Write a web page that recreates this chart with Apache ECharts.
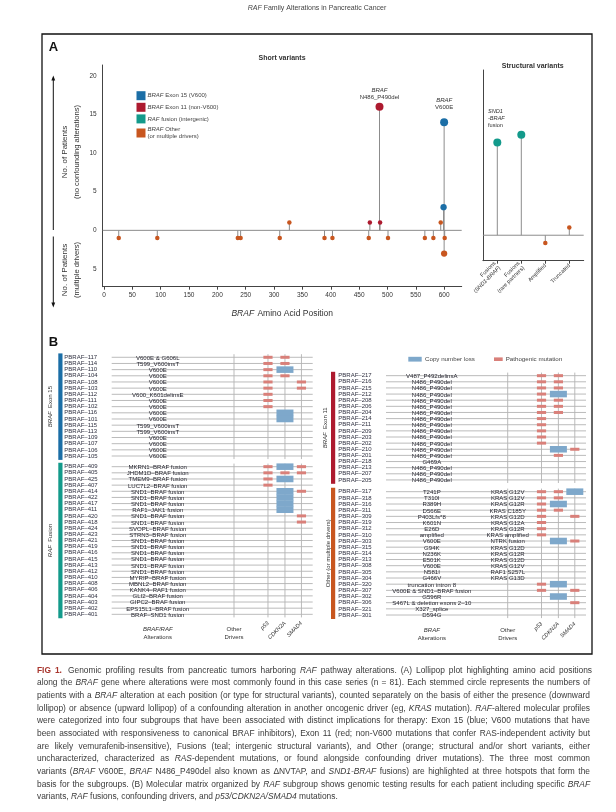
<!DOCTYPE html>
<html><head><meta charset="utf-8">
<script src="https://cdn.jsdelivr.net/npm/echarts@6/dist/echarts.min.js"></script>
<style>html,body{margin:0;padding:0;background:#fff}#c{width:616px;height:812px}</style>
</head><body><div id="c"></div>
<script>
const FONT = "'Liberation Sans', Arial, Helvetica, sans-serif";

// ---------- Panel A: short variants (BRAF amino acid position, patient counts; negative = multiple drivers)
const xTickValues = [0, 50, 100, 150, 200, 250, 300, 350, 400, 450, 500, 550, 600];
const yTickValues = [-5, 0, 5, 10, 15, 20];
const exon15Pos = [600, 599];
const exon15Cnt = [14, 3];
const exon11Pos = [486, 487, 469];
const exon11Cnt = [16, 1, 1];
const otherPos = [327, 594, 26, 94, 236, 241, 310, 389, 403, 467, 501, 566, 581, 601, 600];
const otherCnt = [1, 1, -1, -1, -1, -1, -1, -1, -1, -1, -1, -1, -1, -1, -3];

// ---------- Panel A: structural variants
const structCats = ['Fusions (SND1-BRAF)', 'Fusions (rare partners)', 'Amplified', 'Truncated'];
const structFusionIdx = [0, 1];
const structFusionCnt = [12, 13];
const structOtherIdx = [2, 3];
const structOtherCnt = [-1, 1];

// ---------- Panel B: molecular matrix (0 = none, 1 = pathogenic mutation, 2 = copy number loss)
const e15Ids = [117, 114, 110, 104, 108, 103, 112, 111, 102, 116, 101, 115, 113, 109, 107, 106, 105];
const e15Alt = ['V600E & G606L', 'T599_V600insT', 'V600E', 'V600E', 'V600E', 'V600E', 'V600_K601delinsE', 'V600E', 'V600E', 'V600E', 'V600E', 'T599_V600insT', 'T599_V600insT', 'V600E', 'V600E', 'V600E', 'V600E'];
const e15Drv = ['', '', '', '', '', '', '', '', '', '', '', '', '', '', '', '', ''];
const e15P53 = [1, 1, 1, 1, 1, 1, 1, 1, 1, 0, 0, 0, 0, 0, 0, 0, 0];
const e15Cdkn = [1, 1, 2, 1, 0, 0, 0, 0, 0, 2, 2, 0, 0, 0, 0, 0, 0];
const e15Smad = [0, 0, 0, 0, 1, 1, 0, 0, 0, 0, 0, 0, 0, 0, 0, 0, 0];

const fusIds = [409, 405, 425, 407, 414, 422, 417, 411, 420, 418, 424, 423, 421, 419, 416, 415, 413, 412, 410, 408, 406, 404, 403, 402, 401];
const fusAlt = ['MKRN1–BRAF fusion', 'JHDM1D–BRAF fusion', 'TMEM9–BRAF fusion', 'LUC7L2–BRAF fusion', 'SND1–BRAF fusion', 'SND1–BRAF fusion', 'SND1–BRAF fusion', 'RAF1–JAK1 fusion', 'SND1–BRAF fusion', 'SND1–BRAF fusion', 'SVOPL–BRAF fusion', 'STRN3–BRAF fusion', 'SND1–BRAF fusion', 'SND1–BRAF fusion', 'SND1–BRAF fusion', 'SND1–BRAF fusion', 'SND1–BRAF fusion', 'SND1–BRAF fusion', 'MYRIP–BRAF fusion', 'MBNL2–BRAF fusion', 'KANK4–RAF1 fusion', 'GLI2–BRAF fusion', 'GIPC2–BRAF fusion', 'EPS15L1–BRAF fusion', 'BRAF–SND1 fusion'];
const fusDrv = fusIds.map(() => '');
const fusP53 = [1, 1, 1, 1, 0, 0, 0, 0, 0, 0, 0, 0, 0, 0, 0, 0, 0, 0, 0, 0, 0, 0, 0, 0, 0];
const fusCdkn = [2, 1, 2, 0, 2, 2, 2, 2, 0, 0, 0, 0, 0, 0, 0, 0, 0, 0, 0, 0, 0, 0, 0, 0, 0];
const fusSmad = [1, 1, 0, 0, 1, 0, 0, 0, 1, 1, 0, 0, 0, 0, 0, 0, 0, 0, 0, 0, 0, 0, 0, 0, 0];

const e11Ids = [217, 216, 215, 212, 208, 206, 204, 214, 211, 209, 203, 202, 210, 201, 218, 213, 207, 205];
const e11Alt = ['V487_P492delinsA', 'N486_P490del', 'N486_P490del', 'N486_P490del', 'N486_P490del', 'N486_P490del', 'N486_P490del', 'N486_P490del', 'N486_P490del', 'N486_P490del', 'N486_P490del', 'N486_P490del', 'N486_P490del', 'N486_P490del', 'G469A', 'N486_P490del', 'N486_P490del', 'N486_P490del'];
const e11Drv = e11Ids.map(() => '');
const e11P53 = [1, 1, 1, 1, 1, 1, 1, 1, 1, 1, 1, 1, 0, 0, 0, 0, 0, 0];
const e11Cdkn = [1, 1, 1, 2, 1, 1, 1, 0, 0, 0, 0, 0, 2, 1, 0, 0, 0, 0];
const e11Smad = [0, 0, 0, 0, 0, 0, 0, 0, 0, 0, 0, 0, 1, 0, 0, 0, 0, 0];

const othIds = [317, 318, 316, 311, 309, 319, 312, 310, 303, 315, 314, 313, 308, 305, 304, 320, 307, 302, 306, 321, 301];
const othAlt = ['T241P', 'T310I', 'R389H', 'D566E', 'P403Lfs*8', 'K601N', 'E26D', 'amplified', 'V600E', 'G94K', 'N236K', 'E501K', 'V600E', 'N581I', 'G466V', 'truncation intron 8', 'V600E & SND1–BRAF fusion', 'G596R', 'S467L & deletion exons 2–10', 'X327_splice', 'D594G'];
const othDrv = ['KRAS G12V', 'KRAS G12V', 'KRAS G12R', 'KRAS C185Y', 'KRAS G12D', 'KRAS G12A', 'KRAS G12R', 'KRAS amplified', 'NTRK fusion', 'KRAS G12D', 'KRAS G12R', 'KRAS G12D', 'KRAS G12V', 'RAF1 S257L', 'KRAS G13D', '', '', '', '', '', ''];
const othP53 = [1, 1, 1, 1, 1, 1, 1, 1, 0, 0, 0, 0, 0, 0, 0, 1, 1, 0, 0, 0, 0];
const othCdkn = [1, 1, 2, 1, 0, 0, 0, 0, 2, 0, 0, 0, 0, 0, 0, 2, 0, 2, 0, 0, 0];
const othSmad = [2, 0, 0, 0, 1, 0, 0, 0, 1, 0, 0, 0, 0, 0, 0, 0, 1, 0, 1, 0, 0];

const geneNames = ['p53', 'CDKN2A', 'SMAD4'];

const captionLines = [
  '{f|FIG} {f|1.}  Genomic profiling results from pancreatic tumors harboring {i|RAF} pathway alterations. (A) Lollipop plot highlighting amino acid positions',
  'along the {i|BRAF} gene where alterations were most commonly found in this case series (n = 81). Each stemmed circle represents the numbers of',
  'patients with a {i|BRAF} alteration at each position (or type for structural variants), counted separately on the basis of either the presence (downward',
  'lollipop) or absence (upward lollipop) of a confounding alteration in another oncogenic driver (eg, {i|KRAS} mutation). {i|RAF}-altered molecular profiles',
  'were categorized into four subgroups that have been associated with distinct implications for therapy: Exon 15 (blue; V600 mutations that have',
  'been associated with responsiveness to canonical BRAF inhibitors), Exon 11 (red; non-V600 mutations that confer RAS-independent activity but',
  'are likely vemurafenib-insensitive), Fusions (teal; intergenic structural variants), and Other (orange; structural and/or short variants, either',
  'uncharacterized, characterized as {i|RAS}-dependent mutations, or found alongside confounding driver mutations). The three most common',
  'variants ({i|BRAF} V600E, {i|BRAF} N486_P490del also known as ΔNVTAP, and {i|SND1-BRAF} fusions) are highlighted at three hotspots that form the',
  'basis for the subgroups. (B) Molecular matrix organized by {i|RAF} subgroup shows genomic testing results for each patient including specific {i|BRAF}',
  'variants, {i|RAF} fusions, confounding drivers, and {i|p53/CDKN2A/SMAD4} mutations.'
];

// ---------- styles / layout
const C = {blue: '#1b6ea6', red: '#ad1a2f', teal: '#139a8b', orange: '#c8561f', stem: '#8c8c8c', axis: '#444',
  cnl: '#7ea8cb', mut: '#d9807a', grid: '#b3b3b3', text: '#333', label: '#2f3040'};
const COL = {alt: 45.8, drv: 121.7, p53: 155.5, cdkn: 172.4, smad: 188.8};
const MATRIX_GRIDS = [
  {left: 111.7, top: 354.2, width: 201, height: 104.9},
  {left: 111.7, top: 463.6, width: 201, height: 153.8},
  {left: 386, top: 372.6, width: 200, height: 110.4},
  {left: 386, top: 488.6, width: 200, height: 129.5}
];
const ital = (fs, color) => ({fontStyle: 'italic', fontSize: fs, color: color || C.text, fontFamily: FONT});
const plain = (fs, color) => ({fontSize: fs, color: color || C.text, fontFamily: FONT});

function sz(v) { const a = Math.abs(v); return a >= 10 ? 8 : (a >= 3 ? 6.3 : 4.5); }
const zip = (a, b) => a.map((v, i) => [v, b[i]]);

// ---------- series
const series = [];
const shortAll = [].concat(zip(exon15Pos, exon15Cnt), zip(exon11Pos, exon11Cnt), zip(otherPos, otherCnt));
function stemSeries(xi, data) {
  return {
    type: 'custom', xAxisIndex: xi, yAxisIndex: xi, data, silent: true, clip: false, z: 1,
    renderItem(params, api) {
      const x = api.value(0), v = api.value(1);
      const p0 = api.coord([x, 0]), p1 = api.coord([x, v]);
      const children = [{type: 'line', shape: {x1: p0[0], y1: p0[1], x2: p1[0], y2: p1[1]}, style: {stroke: C.stem, lineWidth: 1}}];
      if (params.dataIndex === 0) {
        const cs = params.coordSys;
        children.push({type: 'line', shape: {x1: cs.x, y1: p0[1], x2: cs.x + cs.width, y2: p0[1]}, style: {stroke: C.stem, lineWidth: 1}});
      }
      return {type: 'group', children};
    }
  };
}
series.push(stemSeries(0, shortAll));
series.push(stemSeries(1, [].concat(zip(structFusionIdx, structFusionCnt), zip(structOtherIdx, structOtherCnt))));

const dotBase = {type: 'scatter', silent: true, z: 3, symbolSize: (val) => sz(val[1]), emphasis: {disabled: true}};
series.push(Object.assign({}, dotBase, {
  name: 'BRAF Exon 15 (V600)', xAxisIndex: 0, yAxisIndex: 0, itemStyle: {color: C.blue, opacity: 1},
  data: zip(exon15Pos, exon15Cnt).map((d, i) => i === 0 ? {value: d, label: {show: true, position: 'top', distance: 7,
    formatter: '{i|BRAF}\n{n|V600E}', lineHeight: 7, rich: {i: ital(6), n: plain(6)}}} : d)
}));
series.push(Object.assign({}, dotBase, {
  name: 'BRAF Exon 11 (non-V600)', xAxisIndex: 0, yAxisIndex: 0, itemStyle: {color: C.red, opacity: 1},
  data: zip(exon11Pos, exon11Cnt).map((d, i) => i === 0 ? {value: d, label: {show: true, position: 'top', distance: 2,
    formatter: '{i|BRAF}\n{n|N486_P490del}', lineHeight: 7, rich: {i: ital(6), n: plain(6)}}} : d)
}));
series.push(Object.assign({}, dotBase, {
  name: 'BRAF Other', xAxisIndex: 0, yAxisIndex: 0, itemStyle: {color: C.orange, opacity: 1},
  data: zip(otherPos, otherCnt)
}));
series.push(Object.assign({}, dotBase, {
  name: 'RAF fusion (intergenic)', xAxisIndex: 1, yAxisIndex: 1, itemStyle: {color: C.teal, opacity: 1},
  symbolSize: 8,
  data: zip(structFusionIdx, structFusionCnt).map((d, i) => i === 0 ? {value: d, label: {show: true, position: [-5.3, -31],
    align: 'left', verticalAlign: 'top', formatter: '{i|SND1}\n{i|-BRAF}\n{n|fusion}', lineHeight: 7, rich: {i: ital(5.6), n: plain(5.6)}}} : d)
}));
series.push(Object.assign({}, dotBase, {
  name: 'BRAF Other', xAxisIndex: 1, yAxisIndex: 1, itemStyle: {color: C.orange, opacity: 1},
  data: zip(structOtherIdx, structOtherCnt)
}));

// ---------- matrix groups
const groups = [
  {ids: e15Ids, alt: e15Alt, drv: e15Drv, genes: [e15P53, e15Cdkn, e15Smad], color: C.blue, name: '{i|BRAF} {n|Exon 15}', barOff: 53.4, bottom: null},
  {ids: fusIds, alt: fusAlt, drv: fusDrv, genes: [fusP53, fusCdkn, fusSmad], color: C.teal, name: '{i|RAF} {n|Fusion}', barOff: 53.4, bottom: '{i|BRAF/RAF}\n{n|Alterations}'},
  {ids: e11Ids, alt: e11Alt, drv: e11Drv, genes: [e11P53, e11Cdkn, e11Smad], color: C.red, name: '{i|BRAF} {n|Exon 11}', barOff: 55, bottom: null},
  {ids: othIds, alt: othAlt, drv: othDrv, genes: [othP53, othCdkn, othSmad], color: C.orange, name: '{n|Other (or multiple drivers)}', barOff: 55, bottom: '{i|BRAF}\n{n|Alterations}'}
];
const geneCols = [COL.p53, COL.cdkn, COL.smad];

const grids = [
  {left: 102.7, top: 65, width: 359, height: 221.7},
  {left: 482.9, top: 70, width: 100.8, height: 190.7}
].concat(MATRIX_GRIDS);

const xAxes = [
  {gridIndex: 0, type: 'value', min: -2.3, max: 631,
   axisLine: {show: true, onZero: false, lineStyle: {color: C.axis, width: 1}},
   axisTick: {show: true, customValues: xTickValues, length: 3, lineStyle: {color: C.axis}},
   axisLabel: {customValues: xTickValues, fontSize: 6.5, color: C.text, margin: 5, fontFamily: FONT},
   splitLine: {show: false},
   name: '{i|BRAF} {n|Amino Acid Position}', nameLocation: 'middle', nameGap: 21,
   nameTextStyle: {rich: {i: ital(8.5), n: plain(8.5)}}},
  {gridIndex: 1, type: 'value', min: -0.6, max: 3.6,
   axisLine: {show: true, onZero: false, lineStyle: {color: C.axis, width: 1}},
   axisTick: {show: true, customValues: [0, 1, 2, 3], length: 3, lineStyle: {color: C.axis}},
   axisLabel: {customValues: [0, 1, 2, 3], rotate: 45, margin: 4, lineHeight: 6.5,
     formatter: (v) => {
       const s = structCats[Math.round(v)] || '';
       if (s.indexOf('(SND1-BRAF)') >= 0) return '{n|Fusions}\n{n|(}{i|SND1-BRAF}{n|)}';
       if (s.indexOf('(') >= 0) return '{n|Fusions}\n{n|(rare partners)}';
       return '{n|' + s + '}';
     },
     rich: {i: ital(5.6), n: plain(5.6)}},
   splitLine: {show: false}}
];
const yAxes = [
  {gridIndex: 0, type: 'value', min: -7.29, max: 21.39,
   axisLine: {show: true, onZero: false, lineStyle: {color: C.axis, width: 1}},
   axisTick: {show: false},
   axisLabel: {customValues: yTickValues, formatter: (v) => String(Math.abs(v)), fontSize: 6.5, color: C.text, margin: 6, fontFamily: FONT},
   splitLine: {show: false}},
  {gridIndex: 1, type: 'value', min: -3.3, max: 21.4,
   axisLine: {show: true, onZero: false, lineStyle: {color: C.axis, width: 1}},
   axisTick: {show: false}, axisLabel: {show: false}, splitLine: {show: false}}
];

groups.forEach((g, k) => {
  const gi = k + 2;
  const isLeft = k < 2;
  xAxes.push({
    gridIndex: gi, type: 'value', min: 0, max: 200, show: !!g.bottom,
    axisLine: {show: false, onZero: false}, axisTick: {show: false}, splitLine: {show: false},
    axisLabel: {show: !!g.bottom, customValues: geneCols, rotate: 45, margin: 5,
      formatter: (v) => '{i|' + geneNames[geneCols.indexOf(v)] + '}', rich: {i: ital(5.6)}}
  });
  yAxes.push({
    gridIndex: gi, type: 'category', inverse: true, boundaryGap: true,
    data: g.ids.map((n) => 'PBRAF–' + n),
    axisLine: {show: false}, axisTick: {show: false}, splitLine: {show: false},
    axisLabel: {interval: 0, align: 'left', margin: isLeft ? 47.4 : 47.7, fontSize: 6, color: C.label, fontFamily: FONT},
    name: g.name, nameLocation: 'middle', nameRotate: 90, nameGap: 55,
    nameTextStyle: {rich: {i: ital(6), n: plain(6)}}
  });
  // grid lines, group bar, bottom labels
  series.push({
    type: 'custom', xAxisIndex: gi, yAxisIndex: gi, silent: true, clip: false, z: 1,
    data: g.ids.map((_, i) => [0, i]),
    renderItem(params, api) {
      const cs = params.coordSys;
      const i = api.value(1);
      const p = api.coord([0, i]);
      const ch = [{type: 'line', shape: {x1: cs.x, y1: p[1], x2: cs.x + cs.width, y2: p[1]}, style: {stroke: C.grid, lineWidth: 0.9}}];
      if (params.dataIndex === 0) {
        [COL.drv, COL.p53, COL.cdkn, COL.smad].forEach((c) => {
          const x = api.coord([c, 0])[0];
          ch.push({type: 'line', shape: {x1: x, y1: cs.y, x2: x, y2: cs.y + cs.height}, style: {stroke: C.grid, lineWidth: 0.9}});
        });
        ch.push({type: 'rect', shape: {x: cs.x - g.barOff, y: cs.y - 0.8, width: 4.2, height: cs.height + 1.6}, style: {fill: g.color}});
        if (g.bottom) {
          const yb = cs.y + cs.height + 8.5;
          ch.push({type: 'text', x: api.coord([COL.alt, 0])[0], y: yb, style: {text: g.bottom, align: 'center', verticalAlign: 'top',
            textAlign: 'center', textVerticalAlign: 'top', lineHeight: 7.5, rich: {i: Object.assign(ital(6), {fill: C.text, lineHeight: 7.5}), n: Object.assign(plain(6), {fill: C.text, lineHeight: 7.5})}}});
          ch.push({type: 'text', x: api.coord([COL.drv, 0])[0], y: yb, style: {text: 'Other\nDrivers', align: 'center', verticalAlign: 'top',
            textAlign: 'center', textVerticalAlign: 'top', lineHeight: 7.5, fontSize: 6, fontFamily: FONT, fill: C.text}});
        }
      }
      return {type: 'group', children: ch};
    }
  });
  // text cells
  series.push({
    type: 'custom', xAxisIndex: gi, yAxisIndex: gi, silent: true, clip: false, z: 2,
    data: g.ids.map((_, i) => [COL.alt, i]),
    renderItem(params, api) {
      const i = api.value(1);
      const pa = api.coord([COL.alt, i]);
      const pd = api.coord([COL.drv, i]);
      const st = (t) => ({text: t, align: 'center', verticalAlign: 'middle', textAlign: 'center', textVerticalAlign: 'middle', fontSize: 6.05, fontFamily: FONT, fill: '#262630'});
      const ch = [{type: 'text', x: pa[0], y: pa[1] + 0.8, style: st(g.alt[i])}];
      if (g.drv[i]) ch.push({type: 'text', x: pd[0], y: pd[1] + 0.8, style: st(g.drv[i])});
      return {type: 'group', children: ch};
    }
  });
  // mutation / copy-number cells
  const cells = [];
  g.genes.forEach((arr, c) => arr.forEach((code, i) => { if (code) cells.push([geneCols[c], i, code]); }));
  series.push({
    type: 'custom', xAxisIndex: gi, yAxisIndex: gi, silent: true, clip: false, z: 3,
    data: cells,
    renderItem(params, api) {
      const p = api.coord([api.value(0), api.value(1)]);
      const h = api.size([0, 1])[1];
      if (api.value(2) === 2) {
        return {type: 'rect', shape: {x: p[0] - 8.5, y: p[1] - h / 2 - 0.2, width: 17, height: h + 0.4}, style: {fill: C.cnl}};
      }
      return {type: 'rect', shape: {x: p[0] - 4.6, y: p[1] - 1.5, width: 9.2, height: 3}, style: {fill: C.mut}};
    }
  });
});

// ---------- graphics (frame, titles, annotations, caption)
const G = [];
const txt = (x, y, text, extra) => ({type: 'text', x, y, silent: true,
  style: Object.assign({text, fontFamily: FONT, fontSize: 7, fill: C.text, align: 'center', verticalAlign: 'middle', textAlign: 'center', textVerticalAlign: 'middle'}, extra || {})});
G.push({type: 'rect', shape: {x: 42, y: 34, width: 550, height: 620}, style: {fill: 'none', stroke: '#111', lineWidth: 1.3}, silent: true});
G.push(txt(317, 8.5, '{i|RAF} Family Alterations in Pancreatic Cancer', {fontSize: 7, fill: '#444',
  rich: {i: {fontStyle: 'italic', fontSize: 7, fill: '#444', fontFamily: FONT}}}));
G.push(txt(53.5, 47, 'A', {fontSize: 13, fontWeight: 'bold', fill: '#111'}));
G.push(txt(53.5, 342, 'B', {fontSize: 13, fontWeight: 'bold', fill: '#111'}));
G.push(txt(282, 58, 'Short variants', {fontSize: 7, fontWeight: 'bold'}));
G.push(txt(532.7, 66, 'Structural variants', {fontSize: 7, fontWeight: 'bold'}));
const yt = (y, l1, l2) => Object.assign(txt(71, y, '{a|' + l1 + '}\n{b|' + l2 + '}', {
  rich: {a: {fontSize: 8, fontFamily: FONT, fill: C.text, lineHeight: 11.5}, b: {fontSize: 7.6, fontFamily: FONT, fill: C.text, lineHeight: 11.5}}}), {rotation: Math.PI / 2});
G.push(yt(152, 'No. of Patients', '(no confounding alterations)'));
G.push(yt(270, 'No. of Patients', '(multiple drivers)'));
G.push({type: 'line', shape: {x1: 53.3, y1: 230, x2: 53.3, y2: 79}, style: {stroke: '#111', lineWidth: 1}, silent: true});
G.push({type: 'polygon', shape: {points: [[53.3, 75.5], [51.4, 80.5], [55.2, 80.5]]}, style: {fill: '#111'}, silent: true});
G.push({type: 'line', shape: {x1: 53.3, y1: 236.5, x2: 53.3, y2: 304}, style: {stroke: '#111', lineWidth: 1}, silent: true});
G.push({type: 'polygon', shape: {points: [[53.3, 307.5], [51.4, 302.5], [55.2, 302.5]]}, style: {fill: '#111'}, silent: true});
// panel B legend
G.push({type: 'rect', shape: {x: 408.3, y: 356.8, width: 13.4, height: 4.8}, style: {fill: C.cnl}, silent: true});
G.push(txt(425, 359.2, 'Copy number loss', {align: 'left', textAlign: 'left', fontSize: 6.2, fill: '#444'}));
G.push({type: 'rect', shape: {x: 494, y: 357.4, width: 8.7, height: 3.6}, style: {fill: C.mut}, silent: true});
G.push(txt(505.7, 359.2, 'Pathogenic mutation', {align: 'left', textAlign: 'left', fontSize: 6.2, fill: '#444'}));

// caption, justified word by word
(function buildCaption() {
  const L = 37, R = 590, TOP = 670.5, LH = 12.65;
  const ctx = document.createElement('canvas').getContext('2d');
  const fontOf = (s, fs) => (s === 'i' ? 'italic ' : '') + (s === 'f' ? 'bold ' : '') + fs + 'px ' + FONT;
  const parse = (tok) => { const out = []; const re = /\{(\w)\|([^}]*)\}|([^{]+)/g; let m;
    while ((m = re.exec(tok))) { if (m[1]) out.push({s: m[1], t: m[2]}); else out.push({s: 'n', t: m[3]}); } return out; };
  const measure = (tok, fs) => parse(tok).reduce((w, sg) => { ctx.font = fontOf(sg.s, fs); return w + ctx.measureText(sg.t).width; }, 0);
  const base = 8;
  ctx.font = fontOf('n', base);
  const sp = ctx.measureText(' ').width;
  let maxW = 0;
  captionLines.forEach((l) => { const t = l.split(' ').filter(Boolean);
    const w = t.reduce((a, x) => a + measure(x, base), 0) + sp * 0.85 * (t.length - 1); maxW = Math.max(maxW, w); });
  const fs = Math.min(8.4, base * (R - L) / maxW);
  ctx.font = fontOf('n', fs);
  const spN = ctx.measureText(' ').width;
  captionLines.forEach((l, li) => {
    const toks = l.split(' ').filter(Boolean);
    const ws = toks.map((t) => measure(t, fs));
    const total = ws.reduce((a, b) => a + b, 0);
    const last = li === captionLines.length - 1;
    const gap = last ? spN : (R - L - total) / (toks.length - 1);
    let x = L; const y = TOP + li * LH;
    toks.forEach((t, k) => {
      G.push({type: 'text', x, y, silent: true, style: {text: t, fontFamily: FONT, fontSize: fs, fill: '#3a3a3a',
        align: 'left', verticalAlign: 'middle', textAlign: 'left', textVerticalAlign: 'middle',
        rich: {i: {fontStyle: 'italic', fontSize: fs, fontFamily: FONT, fill: '#3a3a3a'},
               f: {fontWeight: 'bold', fontSize: fs, fontFamily: FONT, fill: '#a8362e'}}}});
      x += ws[k] + gap + (k === 1 && li === 0 ? 2 : 0);
    });
  });
})();

const LEG = {
  'BRAF Exon 15 (V600)': '{i|BRAF} Exon 15 (V600)',
  'BRAF Exon 11 (non-V600)': '{i|BRAF} Exon 11 (non-V600)',
  'RAF fusion (intergenic)': '{i|RAF} fusion (intergenic)',
  'BRAF Other': '{i|BRAF} Other\n(or multiple drivers)'
};

const chart = echarts.init(document.getElementById('c'), null, {renderer: 'canvas', width: 616, height: 812});
chart.setOption({
  animation: false,
  backgroundColor: '#fff',
  textStyle: {fontFamily: FONT},
  grid: grids,
  xAxis: xAxes,
  yAxis: yAxes,
  legend: {
    show: true, orient: 'vertical', left: 136.5, top: 91.2, itemWidth: 9, itemHeight: 9, itemGap: 2.6, icon: 'rect',
    selectedMode: false, padding: 0,
    data: Object.keys(LEG),
    formatter: (n) => LEG[n],
    textStyle: {fontSize: 6, color: '#444', fontFamily: FONT, lineHeight: 7, padding: [0, 0, 0, -3],
      rich: {i: {fontStyle: 'italic', fontSize: 6, color: '#444', fontFamily: FONT, lineHeight: 7}}}
  },
  series,
  graphic: {elements: G}
});
</script></body></html>
